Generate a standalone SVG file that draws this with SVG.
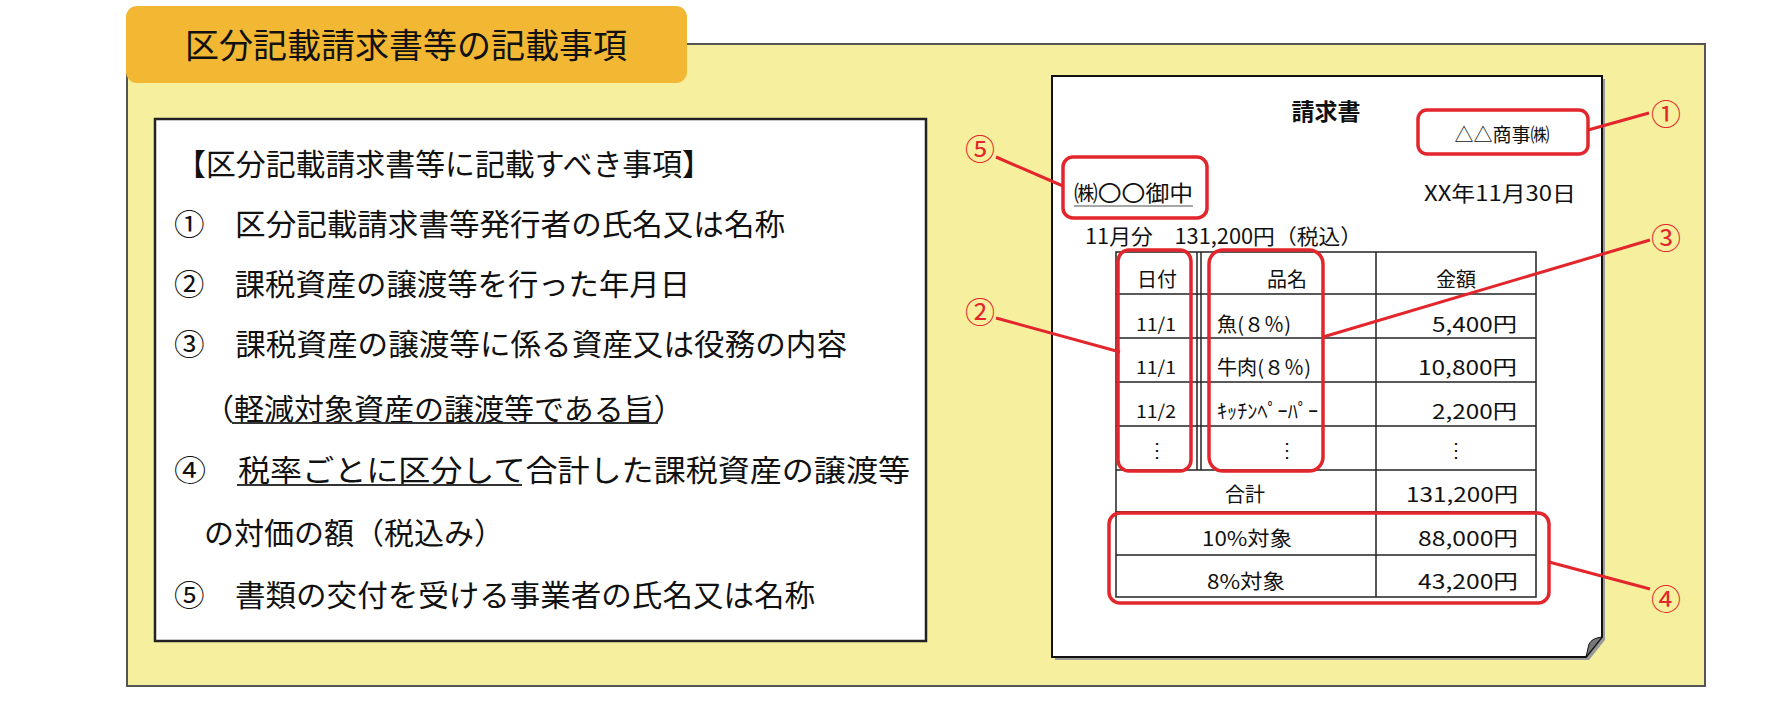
<svg xmlns="http://www.w3.org/2000/svg" width="1782" height="718" viewBox="0 0 1782 718">
<style>
text{font-family:"Noto Sans CJK JP","Noto Sans CJK SC",sans-serif;fill:#111;dominant-baseline:central}
.lt{font-size:30px}
.t{font-size:20px}
.d{font-size:18px}
.num{font-size:30px;fill:#e2262c}
.red{fill:none;stroke:#e2262c;stroke-width:3.5}
.cl{stroke:#e2262c;stroke-width:3;fill:none}
.tb{stroke:#222;stroke-width:1.5;fill:none}
.ul{stroke:#333;stroke-width:2}
</style>
<rect width="1782" height="718" fill="#fff"/>
<g id="panel">
<rect x="127" y="44" width="1578" height="642" fill="#f6f09e" stroke="#555" stroke-width="2"/>
</g>
<g id="title">
<rect x="126" y="6" width="561" height="77" rx="11" fill="#f2b733"/>
<text x="406" y="43" style="font-size:34px" text-anchor="middle">区分記載請求書等の記載事項</text>
</g>
<g id="list">
<rect x="155" y="119" width="771" height="522" fill="#fff" stroke="#222" stroke-width="2.5"/>
<text class="lt" x="176" y="162" textLength="536" lengthAdjust="spacingAndGlyphs">【区分記載請求書等に記載すべき事項】</text>
<text class="lt" x="174" y="222" textLength="611" lengthAdjust="spacingAndGlyphs">①　区分記載請求書等発行者の氏名又は名称</text>
<text class="lt" x="174" y="282" textLength="516" lengthAdjust="spacingAndGlyphs">②　課税資産の譲渡等を行った年月日</text>
<text class="lt" x="174" y="342" textLength="673" lengthAdjust="spacingAndGlyphs">③　課税資産の譲渡等に係る資産又は役務の内容</text>
<text class="lt" x="204" y="407">（軽減対象資産の譲渡等である旨）</text>
<line class="ul" x1="232" y1="423" x2="658" y2="423"/>
<text class="lt" x="174" y="468" textLength="736" lengthAdjust="spacingAndGlyphs">④　税率ごとに区分して合計した課税資産の譲渡等</text>
<line class="ul" x1="237" y1="485" x2="522" y2="485"/>
<text class="lt" x="204" y="531">の対価の額（税込み）</text>
<text class="lt" x="174" y="593" textLength="641" lengthAdjust="spacingAndGlyphs">⑤　書類の交付を受ける事業者の氏名又は名称</text>
</g>
<g id="invoice">
<path d="M1055,79 H1605 V640 L1589,660 H1055 Z" fill="#999"/>
<path d="M1052,76 H1602 V637 L1586,657 H1052 Z" fill="#fff" stroke="#111" stroke-width="2"/>
<path d="M1602,637 L1586,657 L1589,644 Q1592,638 1602,637 Z" fill="#777" stroke="#111" stroke-width="1"/>
<text x="1326" y="110" style="font-size:23px;font-weight:700" text-anchor="middle">請求書</text>
<text x="1502" y="133" style="font-size:19px" text-anchor="middle">△△商事㈱</text>
<text x="1074" y="191" style="font-size:22px" textLength="119" lengthAdjust="spacingAndGlyphs">㈱〇〇御中</text>
<line x1="1074" y1="206" x2="1193" y2="206" stroke="#888" stroke-width="1.5"/>
<text x="1424" y="192" style="font-size:21px" textLength="152" lengthAdjust="spacingAndGlyphs">XX年11月30日</text>
<text x="1085" y="235" style="font-size:21px" textLength="277" lengthAdjust="spacingAndGlyphs">11月分　131,200円（税込）</text>
</g>
<g id="table">
<rect class="tb" x="1116" y="252" width="420" height="260"/>
<line class="tb" x1="1197" y1="252" x2="1197" y2="470"/>
<line class="tb" x1="1201" y1="252" x2="1201" y2="470"/>
<line class="tb" x1="1376" y1="252" x2="1376" y2="597"/>
<line class="tb" x1="1116" y1="294" x2="1536" y2="294"/>
<line class="tb" x1="1116" y1="338" x2="1536" y2="338"/>
<line class="tb" x1="1116" y1="382" x2="1536" y2="382"/>
<line class="tb" x1="1116" y1="426" x2="1536" y2="426"/>
<line class="tb" x1="1116" y1="470" x2="1536" y2="470"/>
<rect class="tb" x="1116" y="512" width="420" height="85"/>
<line class="tb" x1="1116" y1="555" x2="1536" y2="555"/>
<text class="t" x="1157" y="278" text-anchor="middle">日付</text>
<text class="t" x="1287" y="278" text-anchor="middle">品名</text>
<text class="t" x="1456" y="278" text-anchor="middle">金額</text>
<text class="d" x="1136" y="323" textLength="40" lengthAdjust="spacingAndGlyphs">11/1</text>
<text class="d" x="1136" y="366" textLength="40" lengthAdjust="spacingAndGlyphs">11/1</text>
<text class="d" x="1136" y="410" textLength="40" lengthAdjust="spacingAndGlyphs">11/2</text>
<text class="t" x="1157" y="448" text-anchor="middle">⋮</text>
<text class="t" x="1217" y="323" textLength="74" lengthAdjust="spacingAndGlyphs">魚(８％)</text>
<text class="t" x="1217" y="366" textLength="94" lengthAdjust="spacingAndGlyphs">牛肉(８％)</text>
<text class="t" x="1217" y="410" textLength="101" lengthAdjust="spacingAndGlyphs">ｷｯﾁﾝﾍﾟｰﾊﾟｰ</text>
<text class="t" x="1287" y="448" text-anchor="middle">⋮</text>
<text class="t" x="1432" y="323" textLength="85" lengthAdjust="spacingAndGlyphs">5,400円</text>
<text class="t" x="1418" y="366" textLength="99" lengthAdjust="spacingAndGlyphs">10,800円</text>
<text class="t" x="1432" y="410" textLength="85" lengthAdjust="spacingAndGlyphs">2,200円</text>
<text class="t" x="1456" y="448" text-anchor="middle">⋮</text>
<text class="t" x="1245" y="493" text-anchor="middle">合計</text>
<text class="t" x="1406" y="493" textLength="112" lengthAdjust="spacingAndGlyphs">131,200円</text>
<text class="t" x="1202" y="537" textLength="90" lengthAdjust="spacingAndGlyphs">10%対象</text>
<text class="t" x="1418" y="537" textLength="100" lengthAdjust="spacingAndGlyphs">88,000円</text>
<text class="t" x="1207" y="580" textLength="78" lengthAdjust="spacingAndGlyphs">8%対象</text>
<text class="t" x="1418" y="580" textLength="100" lengthAdjust="spacingAndGlyphs">43,200円</text>
</g>
<g id="highlights">
<rect id="box1" class="red" x="1418" y="110" width="170" height="44" rx="9"/>
<rect id="box5" class="red" x="1063" y="157" width="144" height="61" rx="10"/>
<rect id="box2" class="red" x="1118" y="250" width="73" height="221" rx="11"/>
<rect id="box3" class="red" x="1209" y="250" width="114" height="221" rx="14"/>
<rect id="box4" class="red" x="1109" y="513" width="440" height="90" rx="11"/>
</g>
<g id="connectors">
<line class="cl" x1="1588" y1="130" x2="1649" y2="113"/>
<line class="cl" x1="996" y1="157" x2="1063" y2="186"/>
<line class="cl" x1="996" y1="318" x2="1120" y2="352"/>
<line class="cl" x1="1323" y1="337" x2="1650" y2="240"/>
<line class="cl" x1="1549" y1="562" x2="1650" y2="589"/>
</g>
<g id="labels">
<text class="num" x="1666" y="112" text-anchor="middle">①</text>
<text class="num" x="980" y="310" text-anchor="middle">②</text>
<text class="num" x="1666" y="236" text-anchor="middle">③</text>
<text class="num" x="1666" y="597" text-anchor="middle">④</text>
<text class="num" x="980" y="147" text-anchor="middle">⑤</text>
</g>
</svg>
